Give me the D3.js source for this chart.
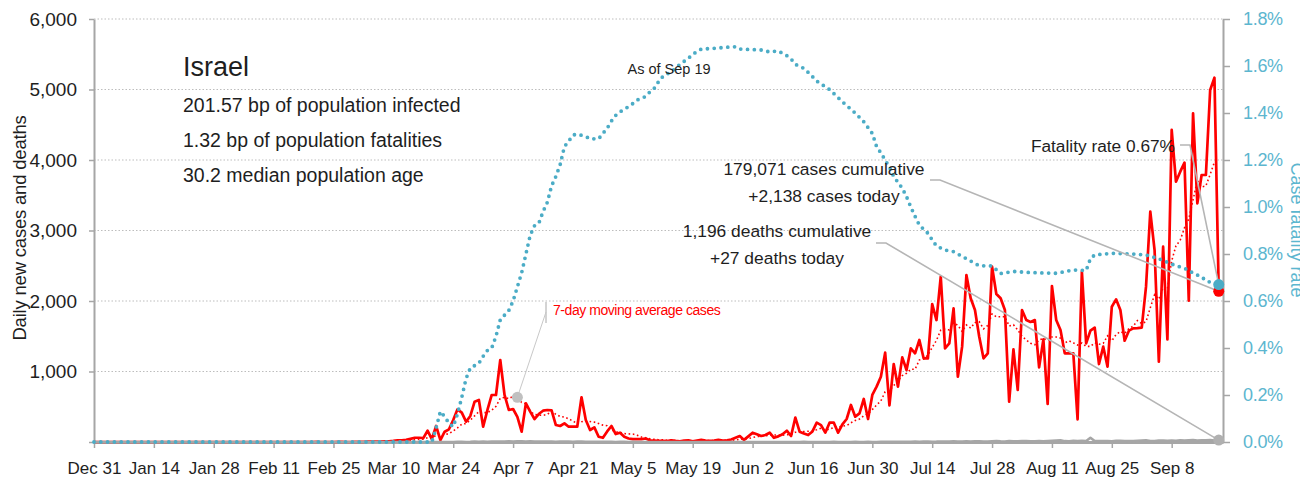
<!DOCTYPE html>
<html>
<head>
<meta charset="utf-8">
<script src="https://cdn.jsdelivr.net/npm/d3@7"></script>
<style>
  html, body { margin: 0; padding: 0; background: #fff; }
  svg text { font-family: "Liberation Sans", Arial, sans-serif; }
</style>
</head>
<body>
<svg id="chart" width="1315" height="485"></svg>
<script>
// ---- data -------------------------------------------------------------
const startDate = "2019-12-31";   // first day of the daily series
const axisEndDate = "2020-09-20";

// Daily new confirmed cases, one value per day from Dec 31
const dailyCases = [
  0,0,0,0,0,0,0,0,0,0,
  0,0,0,0,0,0,0,0,0,0,
  0,0,0,0,0,0,0,0,0,0,
  0,0,0,0,0,0,0,0,0,0,
  0,0,0,0,0,0,0,0,0,0,
  0,0,1,0,0,0,0,1,2,0,
  0,3,2,2,5,4,4,6,10,11,
  17,25,22,30,45,60,60,55,160,40,
  227,28,146,180,312,463,416,288,369,572,
  596,217,454,667,667,1163,667,454,468,355,
  146,549,430,326,397,444,454,450,241,227,
  265,217,217,217,634,312,170,208,75,60,
  150,227,113,132,75,50,40,40,40,50,
  25,20,15,18,12,25,15,10,20,25,
  10,20,30,20,15,20,30,20,25,35,
  60,85,30,80,132,110,85,100,132,60,
  80,110,160,85,345,146,120,99,150,274,
  240,132,274,274,132,250,326,525,359,406,
  610,326,667,785,926,1267,520,1106,785,1201,
  1021,1329,1258,1447,1187,1187,1957,1730,2345,1329,
  1400,1896,926,1352,2369,2038,1872,1494,1187,1258,
  2487,2099,2038,1872,572,1315,738,1872,1730,1702,
  1730,1059,1456,539,2213,1730,1589,1258,1258,1258,
  322,2416,1400,1579,1622,1106,1352,1068,1919,2024,
  1872,1437,1579,1612,1615,1622,2203,3267,2723,1139,
  2770,1456,4426,3692,3834,3962,2004,4662,3385,3787,
  3787,4993,5168,2138
];

// Daily new deaths, same days
const dailyDeaths = [
  0,0,0,0,0,0,0,0,0,0, 0,0,0,0,0,0,0,0,0,0,
  0,0,0,0,0,0,0,0,0,0, 0,0,0,0,0,0,0,0,0,0,
  0,0,0,0,0,0,0,0,0,0, 0,0,0,0,0,0,0,0,0,0,
  0,0,0,0,0,0,0,0,0,0, 0,0,0,0,0,0,0,0,0,0,
  1,0,0,1,1,2,3,1,2,5,
  4,6,3,5,6,7,8,9,8,10,
  9,8,10,7,8,6,5,5,4,6,
  7,5,4,5,6,3,4,3,2,3,
  2,3,1,2,2,1,2,1,0,1,
  1,1,0,1,0,0,1,0,1,0,
  0,1,0,0,1,0,0,0,1,0,
  0,0,1,0,0,1,0,0,0,1,
  0,1,0,0,1,0,2,0,1,0,
  1,0,1,2,0,1,1,0,2,1,
  1,2,1,0,3,2,2,3,4,2,
  3,4,5,3,6,7,4,5,8,6,
  7,9,5,8,10,6,9,11,8,7,
  10,12,9,8,13,11,10,14,12,9,
  11,13,10,15,17,20,24,12,11,16,
  12,18,15,60,14,12,15,13,10,16,
  17,14,12,15,18,22,25,14,13,19,
  21,18,22,17,24,20,23,26,22,25,
  24,28,22,27
];

// Case fatality rate (%), sampled by day index from Dec 31
const cfrDayIndex = [
  0,79,80,81,82,83,84,85,86,87,88,89,90,91,92,93,94,95,96,97,98,99,100,101,102,103,104,
  105,106,107,108,109,110,111,112,113,115,116,118,119,120,121,122,123,125,126,127,129,130,
  131,132,133,135,136,137,139,140,142,145,148,150,151,156,158,160,162,163,164,166,167,168,
  169,172,175,178,180,182,183,184,186,187,189,190,191,192,193,195,196,197,199,201,202,205,
  207,210,212,215,218,221,225,229,232,233,234,238,243,246,249,252,256,257,259,260,262,263
];
const cfrPercent = [
  0,0,0.06,0.13,0.108,0.08,0.065,0.12,0.19,0.27,0.315,0.325,0.335,0.365,0.39,0.40,0.45,0.52,0.54,0.56,0.60,0.66,0.72,0.80,0.88,0.92,0.93,
  0.98,1.02,1.09,1.13,1.18,1.257,1.28,1.306,1.31,1.30,1.29,1.29,1.313,1.335,1.366,1.39,1.405,1.427,1.44,1.455,1.47,1.49,
  1.505,1.533,1.555,1.576,1.59,1.607,1.633,1.65,1.672,1.675,1.68,1.682,1.672,1.668,1.66,1.664,1.644,1.63,1.607,1.59,1.573,1.555,
  1.536,1.50,1.448,1.40,1.363,1.313,1.257,1.23,1.17,1.13,1.08,1.044,1.0,0.96,0.923,0.888,0.86,0.834,0.817,0.81,0.80,0.77,
  0.75,0.749,0.717,0.726,0.722,0.72,0.718,0.732,0.73,0.78,0.796,0.803,0.80,0.796,0.78,0.757,0.732,0.718,0.703,0.686,0.675,0.67
];

const xTickDates = [
  "2019-12-31","2020-01-14","2020-01-28","2020-02-11","2020-02-25","2020-03-10",
  "2020-03-24","2020-04-07","2020-04-21","2020-05-05","2020-05-19","2020-06-02",
  "2020-06-16","2020-06-30","2020-07-14","2020-07-28","2020-08-11","2020-08-25","2020-09-08"
];
const leftTicks = [0, 1000, 2000, 3000, 4000, 5000, 6000];
const rightTicks = [0, 0.002, 0.004, 0.006, 0.008, 0.010, 0.012, 0.014, 0.016, 0.018];

const countryName = "Israel";
const infoLines = [
  "201.57 bp of population infected",
  "1.32 bp of population fatalities",
  "30.2 median population age"
];
const asOfLabel = "As of Sep 19";
const cumulativeCases = 179071;
const cumulativeDeaths = 1196;
const maLabel = "7-day moving average cases";
const maCalloutDay = 99;

// ---- scales -----------------------------------------------------------
const svg = d3.select("#chart");
const parseDay = d3.utcParse("%Y-%m-%d");
const t0 = parseDay(startDate);
const dayAt = i => d3.utcDay.offset(t0, i);

const x = d3.scaleUtc().domain([t0, parseDay(axisEndDate)]).range([94, 1223]);
const yL = d3.scaleLinear().domain([0, 6000]).range([442, 19]);
const yR = d3.scaleLinear().domain([0, 0.018]).range([442, 19]);

const axisGrey = "#a6a6a6";
const teal = "#4bacc6";
const tealText = "#5cb6cf";
const red = "#ff0000";
const ink = "#1e1e1e";

svg.append("rect").attr("width", 1315).attr("height", 485).attr("fill", "#fff");

// horizontal dotted gridlines
svg.append("g").selectAll("line")
  .data(leftTicks.filter(v => v > 0))
  .join("line")
  .attr("x1", 94).attr("x2", 1223)
  .attr("y1", d => yL(d)).attr("y2", d => yL(d))
  .attr("stroke", "#bdbdbd").attr("stroke-width", 1)
  .attr("stroke-dasharray", "1.5,2");

// ---- axes -------------------------------------------------------------
function styleAxis(g) {
  g.select(".domain").attr("stroke", axisGrey).attr("stroke-width", 2);
  g.selectAll(".tick line").attr("stroke", axisGrey).attr("stroke-width", 1.5);
}

const gLeft = svg.append("g").attr("transform", "translate(94,0)")
  .call(d3.axisLeft(yL).tickValues(leftTicks).tickSize(5).tickSizeOuter(0).tickPadding(12)
    .tickFormat(v => v === 0 ? "" : d3.format(",")(v)));
styleAxis(gLeft);
gLeft.selectAll("text").attr("font-size", 19).attr("fill", ink).attr("font-family", null);

const gRight = svg.append("g").attr("transform", "translate(1223,0)")
  .call(d3.axisRight(yR).tickValues(rightTicks).tickSize(7).tickSizeOuter(0).tickPadding(13)
    .tickFormat(d3.format(".1%")));
styleAxis(gRight);
gRight.selectAll("text").attr("font-size", 18).attr("fill", tealText).attr("font-family", null)
  .attr("letter-spacing", -0.3);

const gBottom = svg.append("g").attr("transform", "translate(0,442)")
  .call(d3.axisBottom(x).tickValues(xTickDates.map(parseDay)).tickSize(6).tickSizeOuter(0)
    .tickFormat(d3.utcFormat("%b %-d")));
styleAxis(gBottom);
gBottom.select(".domain").attr("stroke-width", 3);
gBottom.selectAll("text").attr("font-size", 17).attr("fill", ink).attr("font-family", null)
  .attr("y", 32).attr("dy", 0);

// axis titles
svg.append("text")
  .attr("transform", "translate(26,228) rotate(-90)")
  .attr("text-anchor", "middle").attr("font-size", 18.5).attr("fill", ink)
  .attr("letter-spacing", -0.2)
  .text("Daily new cases and deaths");

// right title runs past the drawing area and is cut at its edge
svg.append("clipPath").attr("id", "rightTitleClip")
  .append("rect").attr("x", 1230).attr("y", 0).attr("width", 70).attr("height", 485);
svg.append("g").attr("clip-path", "url(#rightTitleClip)")
  .append("text")
  .attr("transform", "translate(1291,230) rotate(90)")
  .attr("text-anchor", "middle").attr("font-size", 18).attr("fill", tealText)
  .text("Case fatality rate");

// ---- series -----------------------------------------------------------
const cases = dailyCases.map((v, i) => ({ date: dayAt(i), v }));
const deaths = dailyDeaths.map((v, i) => ({ date: dayAt(i), v }));
const movingAvg = dailyCases.map((v, i) => ({
  date: dayAt(i),
  v: i < 6 ? null : d3.mean(dailyCases.slice(i - 6, i + 1))
}));
const cfr = cfrDayIndex.map((d, i) => ({ date: dayAt(d), v: cfrPercent[i] / 100 }));

const lineL = d3.line().defined(d => d.v != null).x(d => x(d.date)).y(d => yL(d.v));
const lineR = d3.line().x(d => x(d.date)).y(d => yR(d.v));

svg.append("path").datum(cases).attr("d", lineL)
  .attr("fill", "none").attr("stroke", red).attr("stroke-width", 2.7)
  .attr("stroke-linejoin", "round");

svg.append("path").datum(movingAvg).attr("d", lineL)
  .attr("fill", "none").attr("stroke", red).attr("stroke-width", 1.6)
  .attr("stroke-dasharray", "1.6,2.6");

svg.append("path").datum(deaths).attr("d", lineL)
  .attr("fill", "none").attr("stroke", axisGrey).attr("stroke-width", 2.6)
  .attr("stroke-linejoin", "round");

svg.append("path").datum(cfr).attr("d", lineR)
  .attr("fill", "none").attr("stroke", teal).attr("stroke-width", 3.8)
  .attr("stroke-linecap", "round").attr("stroke-dasharray", "0,6.8");

// ---- annotations ------------------------------------------------------
const last = dailyCases.length - 1;
const lastDate = dayAt(last);
const lastCases = dailyCases[last];
const lastDeaths = dailyDeaths[last];
const lastCfr = cfrPercent[cfrPercent.length - 1];
const xe = x(lastDate);

const leader = (pts, w) => svg.append("polyline")
  .attr("points", pts.map(p => p.join(",")).join(" "))
  .attr("fill", "none").attr("stroke", "#b5b5b5").attr("stroke-width", w || 1.6);

leader([[930, 180], [940, 180], [xe, yL(lastCases)]]);
leader([[876, 243], [886, 243], [xe, yL(lastDeaths)]]);
leader([[1180, 145], [1190, 145], [xe, yR(lastCfr / 100)]]);

// end-point markers
svg.append("circle").attr("cx", xe).attr("cy", yL(lastDeaths)).attr("r", 5.5).attr("fill", "#b0b0b0");
svg.append("circle").attr("cx", xe).attr("cy", yL(lastCases)).attr("r", 5.5).attr("fill", red);
svg.append("circle").attr("cx", xe).attr("cy", yR(lastCfr / 100)).attr("r", 5.5).attr("fill", teal);

// moving-average callout
const maPt = movingAvg[maCalloutDay];
const mx = x(maPt.date), my = yL(maPt.v);
svg.append("line").attr("x1", 546).attr("x2", 546).attr("y1", 302).attr("y2", 323)
  .attr("stroke", "#a8a8a8").attr("stroke-width", 1);
svg.append("line").attr("x1", 546).attr("y1", 312).attr("x2", mx).attr("y2", my)
  .attr("stroke", "#c8c8c8").attr("stroke-width", 1);
svg.append("circle").attr("cx", mx).attr("cy", my).attr("r", 5.5).attr("fill", "#c0c0c0");
svg.append("text").attr("x", 553).attr("y", 314.5).attr("font-size", 14).attr("fill", red)
  .attr("letter-spacing", -0.45)
  .text(maLabel);

// country block
svg.append("text").attr("x", 183).attr("y", 76).attr("font-size", 27).attr("fill", ink)
  .text(countryName);
svg.append("g").selectAll("text").data(infoLines).join("text")
  .attr("x", 183).attr("y", (d, i) => 111.5 + i * 35)
  .attr("font-size", 19.5).attr("fill", ink).text(d => d);

svg.append("text").attr("x", 669).attr("y", 73.5).attr("text-anchor", "middle")
  .attr("font-size", 14.5).attr("fill", ink).text(asOfLabel);

const fmt = d3.format(",");
const block = (cx, y0, lines) => svg.append("g").selectAll("text").data(lines).join("text")
  .attr("x", cx).attr("y", (d, i) => y0 + i * 26.7).attr("text-anchor", "middle")
  .attr("font-size", 17.4).attr("fill", ink).text(d => d);

block(824, 175, [fmt(cumulativeCases) + " cases cumulative", "+" + fmt(lastCases) + " cases today"]);
block(777, 237.3, [fmt(cumulativeDeaths) + " deaths cumulative", "+" + fmt(lastDeaths) + " deaths today"]);

svg.append("text").attr("x", 1175).attr("y", 151.7).attr("text-anchor", "end")
  .attr("font-size", 17.3).attr("fill", ink)
  .text("Fatality rate " + lastCfr.toFixed(2) + "%");
</script>
</body>
</html>
